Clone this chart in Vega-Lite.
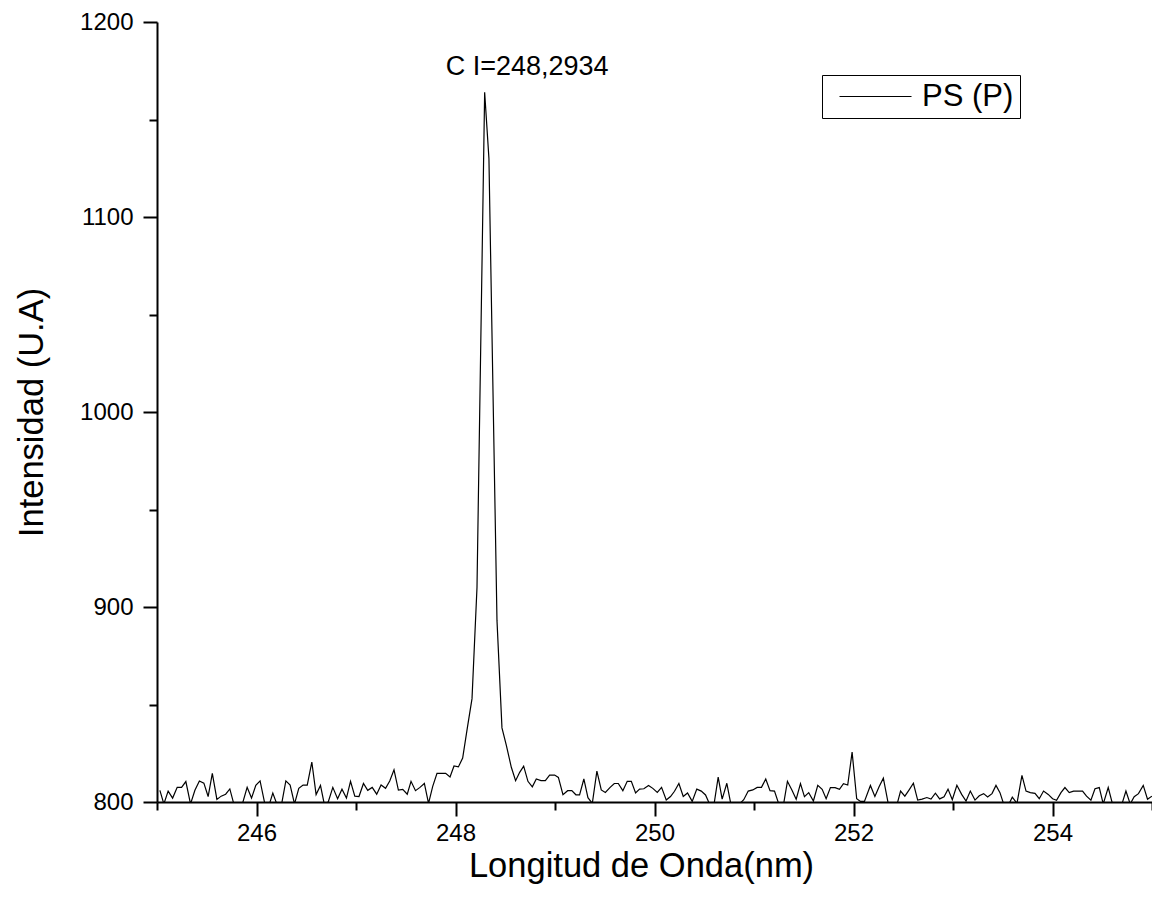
{
"$schema": "https://vega.github.io/schema/vega-lite/v6.json",
"width": 995, "height": 780,
"autosize": {"type": "none"},
"padding": {"left": 157, "top": 22, "right": 0, "bottom": 105},
"background": "white",
"config": {"view": {"stroke": null}, "font": "Liberation Sans",
 "axis": {"grid": false, "domainColor": "black", "tickColor": "black", "labelColor": "black", "titleColor": "black", "domainWidth": 2, "tickWidth": 2, "labelFont": "Liberation Sans", "titleFont": "Liberation Sans", "labelFontSize": 24, "titleFontSize": 34.5, "titleFontWeight": "normal"}},
"datasets": {
"spec": [
{"nm":245.029,"ua":806},{"nm":245.069,"ua":799},{"nm":245.112,"ua":805.6},{"nm":245.157,"ua":802},{"nm":245.203,"ua":807.5},{"nm":245.247,"ua":807.5},{"nm":245.290,"ua":810.5},{"nm":245.337,"ua":799},{"nm":245.381,"ua":806},{"nm":245.426,"ua":810.8},
{"nm":245.471,"ua":809.7},{"nm":245.514,"ua":802.8},{"nm":245.556,"ua":814.7},{"nm":245.602,"ua":801.3},{"nm":245.645,"ua":803},{"nm":245.690,"ua":804},{"nm":245.732,"ua":806.7},{"nm":245.772,"ua":799},{"nm":245.815,"ua":797},{"nm":245.858,"ua":799},
{"nm":245.906,"ua":807.5},{"nm":245.950,"ua":802},{"nm":245.993,"ua":808.5},{"nm":246.036,"ua":810.8},{"nm":246.084,"ua":799},{"nm":246.124,"ua":798},{"nm":246.164,"ua":804.6},{"nm":246.204,"ua":799},{"nm":246.249,"ua":798},{"nm":246.295,"ua":810.8},
{"nm":246.338,"ua":808.7},{"nm":246.382,"ua":799},{"nm":246.425,"ua":807},{"nm":246.468,"ua":808.7},{"nm":246.510,"ua":808.7},{"nm":246.556,"ua":820.5},{"nm":246.599,"ua":803.8},{"nm":246.643,"ua":808.5},{"nm":246.681,"ua":799},{"nm":246.721,"ua":800},
{"nm":246.767,"ua":807.5},{"nm":246.815,"ua":801.7},{"nm":246.859,"ua":806.6},{"nm":246.904,"ua":802},{"nm":246.945,"ua":810.6},{"nm":246.988,"ua":803},{"nm":247.030,"ua":802.8},{"nm":247.075,"ua":809.5},{"nm":247.118,"ua":806},{"nm":247.163,"ua":807.5},
{"nm":247.208,"ua":804},{"nm":247.252,"ua":808.7},{"nm":247.297,"ua":807},{"nm":247.339,"ua":810.8},{"nm":247.382,"ua":816.5},{"nm":247.426,"ua":806.1},{"nm":247.470,"ua":806.5},{"nm":247.515,"ua":804},{"nm":247.553,"ua":810.6},{"nm":247.598,"ua":805.8},
{"nm":247.643,"ua":807.5},{"nm":247.687,"ua":809.5},{"nm":247.729,"ua":799.3},{"nm":247.771,"ua":808},{"nm":247.814,"ua":814.7},{"nm":247.858,"ua":814.7},{"nm":247.901,"ua":814.7},{"nm":247.945,"ua":812.8},{"nm":247.985,"ua":818.5},{"nm":248.029,"ua":818},
{"nm":248.072,"ua":822.5},{"nm":248.119,"ua":838},{"nm":248.166,"ua":853},{"nm":248.216,"ua":910},{"nm":248.293,"ua":1164},{"nm":248.336,"ua":1130},{"nm":248.417,"ua":893},{"nm":248.467,"ua":838},{"nm":248.511,"ua":829},{"nm":248.561,"ua":817.8},
{"nm":248.604,"ua":810.9},{"nm":248.645,"ua":815.2},{"nm":248.685,"ua":818.4},{"nm":248.728,"ua":810.6},{"nm":248.772,"ua":807.8},{"nm":248.812,"ua":811.8},{"nm":248.859,"ua":811},{"nm":248.903,"ua":811},{"nm":248.946,"ua":813.8},{"nm":248.996,"ua":813.8},
{"nm":249.034,"ua":812.6},{"nm":249.080,"ua":803.8},{"nm":249.127,"ua":805.8},{"nm":249.169,"ua":805.8},{"nm":249.210,"ua":803.7},{"nm":249.247,"ua":803.7},{"nm":249.290,"ua":811.8},{"nm":249.331,"ua":802.2},{"nm":249.375,"ua":799.3},{"nm":249.421,"ua":815.8},
{"nm":249.465,"ua":806.2},{"nm":249.506,"ua":804.9},{"nm":249.554,"ua":807.5},{"nm":249.596,"ua":809.5},{"nm":249.636,"ua":809.5},{"nm":249.682,"ua":805.8},{"nm":249.726,"ua":810.6},{"nm":249.767,"ua":810.6},{"nm":249.810,"ua":804.6},{"nm":249.850,"ua":806.6},
{"nm":249.893,"ua":806.8},{"nm":249.940,"ua":808.5},{"nm":249.983,"ua":807},{"nm":250.028,"ua":804.9},{"nm":250.071,"ua":807.5},{"nm":250.118,"ua":801},{"nm":250.161,"ua":802.8},{"nm":250.201,"ua":805.5},{"nm":250.245,"ua":809.5},{"nm":250.289,"ua":802.8},
{"nm":250.332,"ua":804.6},{"nm":250.379,"ua":800.3},{"nm":250.425,"ua":806.6},{"nm":250.470,"ua":805.6},{"nm":250.513,"ua":803.6},{"nm":250.553,"ua":799},{"nm":250.593,"ua":797},{"nm":250.640,"ua":812.8},{"nm":250.680,"ua":801.5},{"nm":250.727,"ua":809.6},
{"nm":250.767,"ua":799},{"nm":250.811,"ua":796},{"nm":250.854,"ua":799},{"nm":250.897,"ua":801.2},{"nm":250.942,"ua":805.6},{"nm":250.988,"ua":806.2},{"nm":251.032,"ua":807.5},{"nm":251.075,"ua":807.5},{"nm":251.118,"ua":811.8},{"nm":251.161,"ua":805.8},
{"nm":251.206,"ua":805.6},{"nm":251.249,"ua":799},{"nm":251.291,"ua":797},{"nm":251.336,"ua":810.6},{"nm":251.382,"ua":806},{"nm":251.424,"ua":801.4},{"nm":251.467,"ua":809.4},{"nm":251.507,"ua":802.7},{"nm":251.550,"ua":804.8},{"nm":251.597,"ua":800.5},
{"nm":251.641,"ua":808.5},{"nm":251.685,"ua":806.5},{"nm":251.725,"ua":801.7},{"nm":251.768,"ua":807.4},{"nm":251.815,"ua":807.4},{"nm":251.859,"ua":806.5},{"nm":251.899,"ua":809.4},{"nm":251.942,"ua":808.7},{"nm":251.986,"ua":825.6},{"nm":252.032,"ua":801.7},
{"nm":252.070,"ua":800.3},{"nm":252.110,"ua":800.3},{"nm":252.170,"ua":808.5},{"nm":252.215,"ua":802.8},{"nm":252.257,"ua":807.8},{"nm":252.300,"ua":812.2},{"nm":252.348,"ua":799.5},{"nm":252.391,"ua":796},{"nm":252.431,"ua":797.5},{"nm":252.473,"ua":805.6},
{"nm":252.516,"ua":803},{"nm":252.556,"ua":806},{"nm":252.602,"ua":809.6},{"nm":252.645,"ua":801},{"nm":252.690,"ua":801.5},{"nm":252.737,"ua":802.3},{"nm":252.779,"ua":801.5},{"nm":252.823,"ua":804.5},{"nm":252.866,"ua":801.6},{"nm":252.910,"ua":802.7},
{"nm":252.950,"ua":806.6},{"nm":252.993,"ua":801.2},{"nm":253.039,"ua":808.6},{"nm":253.087,"ua":803.9},{"nm":253.131,"ua":800.5},{"nm":253.174,"ua":805.6},{"nm":253.221,"ua":801},{"nm":253.264,"ua":803.2},{"nm":253.308,"ua":804.3},{"nm":253.348,"ua":802.6},
{"nm":253.392,"ua":804.3},{"nm":253.432,"ua":808.5},{"nm":253.472,"ua":804.8},{"nm":253.509,"ua":799},{"nm":253.553,"ua":798},{"nm":253.596,"ua":802.5},{"nm":253.643,"ua":799.3},{"nm":253.693,"ua":813.7},{"nm":253.734,"ua":805.6},{"nm":253.777,"ua":804.8},
{"nm":253.824,"ua":804.4},{"nm":253.867,"ua":801.7},{"nm":253.910,"ua":805.6},{"nm":253.957,"ua":803.9},{"nm":254.001,"ua":801.7},{"nm":254.041,"ua":800.9},{"nm":254.085,"ua":804.8},{"nm":254.125,"ua":807.4},{"nm":254.168,"ua":804.8},{"nm":254.212,"ua":805.6},
{"nm":254.252,"ua":805.6},{"nm":254.302,"ua":805.6},{"nm":254.342,"ua":803},{"nm":254.386,"ua":800.9},{"nm":254.427,"ua":806.8},{"nm":254.470,"ua":807.4},{"nm":254.510,"ua":799},{"nm":254.560,"ua":807.4},{"nm":254.603,"ua":799},{"nm":254.651,"ua":797},
{"nm":254.698,"ua":799},{"nm":254.738,"ua":805.6},{"nm":254.781,"ua":799},{"nm":254.821,"ua":802.7},{"nm":254.864,"ua":804.3},{"nm":254.912,"ua":808.5},{"nm":254.955,"ua":801.4},{"nm":254.999,"ua":803}
],
"ann": [{"nm": 248.72, "ua": 1177, "label": "C I=248,2934"}]
},
"layer": [
 {"data": {"name": "spec"},
  "mark": {"type": "line", "color": "black", "strokeWidth": 1.2, "clip": true},
  "encoding": {
   "x": {"field": "nm", "type": "quantitative", "scale": {"domain": [245, 255], "nice": false, "zero": false},
         "axis": {"orient": "bottom", "values": [246, 248, 250, 252, 254], "format": "d", "tickSize": 14, "labelPadding": 5, "labelFlush": false, "title": "Longitud de Onda(nm)", "titlePadding": 4, "titleX": 484, "titleAlign": "center"}},
   "y": {"field": "ua", "type": "quantitative", "scale": {"domain": [800, 1200], "nice": false, "zero": false},
         "axis": {"orient": "left", "values": [800, 900, 1000, 1100, 1200], "format": "d", "tickSize": 14, "labelPadding": 10, "title": "Intensidad (U.A)", "titlePadding": 30}},
   "color": {"datum": "PS (P)", "type": "nominal", "scale": {"range": ["black"]},
     "legend": {"title": null, "orient": "none", "legendX": 665, "legendY": 53, "padding": 6, "strokeColor": "black", "fillColor": "white", "symbolType": "M-3,0L3,0", "symbolSize": 576, "symbolStrokeWidth": 1.2, "symbolStrokeColor": "black", "symbolOffset": 32, "labelOffset": 31, "labelFont": "Liberation Sans", "labelFontSize": 31, "labelColor": "black"}}
  }},
 {"data": {"name": "ann"},
  "mark": {"type": "text", "fontSize": 27, "font": "Liberation Sans", "color": "black", "baseline": "middle", "align": "center"},
  "encoding": {
   "x": {"field": "nm", "type": "quantitative", "axis": {"orient": "bottom", "values": [245, 247, 249, 251, 253, 255], "tickSize": 8, "labels": false, "domain": false, "title": null}},
   "y": {"field": "ua", "type": "quantitative", "axis": {"orient": "left", "values": [850, 950, 1050, 1150], "tickSize": 8, "labels": false, "domain": false, "title": null}},
   "text": {"field": "label"}
  }}
],
"resolve": {"axis": {"x": "independent", "y": "independent"}}
}
